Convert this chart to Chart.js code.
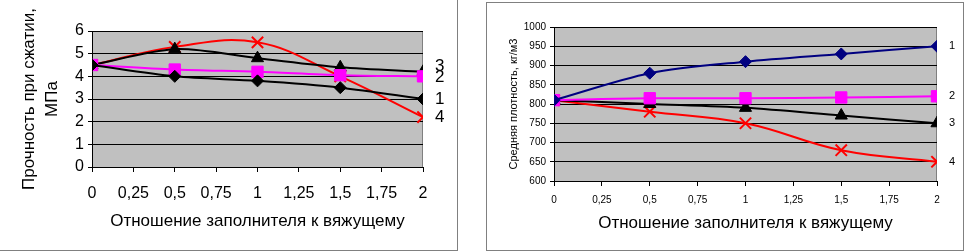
<!DOCTYPE html>
<html lang="ru">
<head>
<meta charset="UTF-8">
<title>Прочность и плотность</title>
<script src="https://cdn.jsdelivr.net/npm/chart.js"></script>
<style>
    body { margin: 0; background: #fff; width: 965px; height: 252px; overflow: hidden; position: relative; }
    .panel { position: absolute; border: 1px solid #808080; background: #fff; box-sizing: border-box; }
    #leftPanel { left: -1px; top: -1px; width: 459px; height: 252px; }
    #rightPanel { left: 486px; top: 2px; width: 478px; height: 249px; }
    canvas { display: block; }
</style>
</head>
<body>
<div class="panel" id="leftPanel"><canvas id="strengthChart" width="457" height="250"></canvas></div>
<div class="panel" id="rightPanel"><canvas id="densityChart" width="476" height="247"></canvas></div>

<script>
// ratio of filler to binder
const ratios = [0, 0.5, 1, 1.5, 2];

// compressive strength, MPa
const strength1 = [4.5, 4.0, 3.8, 3.5, 3.0];
const strength2 = [4.5, 4.3, 4.2, 4.05, 4.0];
const strength3 = [4.5, 5.2, 4.8, 4.4, 4.2];
const strength4 = [4.5, 5.3, 5.5, 4.0, 2.2];

// average density, kg/m3
const density1 = [810, 880, 910, 930, 950];
const density2 = [810, 815, 815, 817, 820];
const density3 = [810, 800, 790, 770, 750];
const density4 = [810, 780, 750, 680, 650];

const seriesNames = ['1', '2', '3', '4'];

const FONT = 'Arial, "Liberation Sans", sans-serif';
Chart.defaults.font.family = FONT;
Chart.defaults.color = '#000';

const toPoints = ys => ys.map((y, i) => ({ x: ratios[i], y: y }));
const commaTick = v => String(v).replace('.', ',');

// grey plot area like the old Excel charts
const plotBackground = {
    id: 'plotBackground',
    beforeDraw(chart) {
        const a = chart.chartArea, c = chart.ctx;
        c.save();
        c.fillStyle = '#c0c0c0';
        c.fillRect(a.left, a.top, a.right - a.left, a.bottom - a.top);
        c.strokeStyle = '#808080';
        c.lineWidth = 1;
        c.strokeRect(a.left + 0.5, a.top + 0.5, a.right - a.left - 1, a.bottom - a.top);
        c.restore();
    }
};

// series numbers printed to the right of the last point
const endLabels = {
    id: 'endLabels',
    afterDatasetsDraw(chart, args, opts) {
        const c = chart.ctx;
        c.save();
        c.font = opts.size + 'px ' + FONT;
        c.fillStyle = '#000';
        c.textBaseline = 'middle';
        chart.data.datasets.forEach((ds, i) => {
            const pts = chart.getDatasetMeta(i).data;
            const last = pts[pts.length - 1];
            const nudge = (opts.nudge && opts.nudge[i]) || 0;
            c.fillText(seriesNames[i], chart.chartArea.right + opts.gap, last.y + nudge);
        });
        c.restore();
    }
};

function makeDataset(values, color, style, radius, tension) {
    return {
        data: toPoints(values),
        borderColor: color,
        backgroundColor: color,
        pointBackgroundColor: color,
        pointBorderColor: color,
        pointStyle: style,
        pointRadius: radius,
        pointBorderWidth: style === 'crossRot' ? 2 : 1,
        borderWidth: 2,
        tension: tension
    };
}

function makeOptions(cfg) {
    return {
        responsive: false,
        animation: false,
        layout: { padding: { top: cfg.top, right: cfg.right, left: 0, bottom: 0 } },
        plugins: {
            legend: { display: false },
            tooltip: { enabled: false },
            endLabels: { size: cfg.labelSize, gap: 12, nudge: cfg.nudge }
        },
        scales: {
            x: {
                type: 'linear',
                min: 0, max: 2,
                afterFit: s => { s.height = cfg.xHeight; },
                ticks: { stepSize: 0.25, callback: commaTick, font: { size: cfg.tickSize }, padding: cfg.xTickPad, maxRotation: 0 },
                grid: { drawOnChartArea: false, color: '#000', tickLength: 5 },
                border: { color: '#000', width: 1 },
                title: { display: true, text: 'Отношение заполнителя к вяжущему', font: { size: 17 }, padding: { top: 0, bottom: cfg.xTitleBottom } }
            },
            y: {
                min: cfg.yMin, max: cfg.yMax,
                afterFit: s => { s.width = cfg.yWidth; },
                ticks: { stepSize: cfg.yStep, callback: v => String(v), font: { size: cfg.tickSize }, padding: 4 },
                grid: { color: '#000', tickLength: 4 },
                border: { color: '#000', width: 1 },
                title: { display: true, text: cfg.yTitle, font: { size: cfg.yTitleSize, lineHeight: 1.35 }, padding: cfg.yTitlePad }
            }
        }
    };
}

new Chart(document.getElementById('strengthChart'), {
    type: 'line',
    data: {
        datasets: [
            makeDataset(strength1, '#000000', 'rectRot', 6, 0.3),
            makeDataset(strength2, '#ff00ff', 'rect', 8, 0.3),
            makeDataset(strength3, '#000000', 'triangle', 7, 0.3),
            makeDataset(strength4, '#ff0000', 'crossRot', 8, 0.4)
        ]
    },
    options: makeOptions({
        top: 31, right: 34, xHeight: 83, yWidth: 92,
        tickSize: 16, xTickPad: 12, xTitleBottom: 18,
        yMin: 0, yMax: 6, yStep: 1,
        yTitle: ['Прочность при сжатии,', 'МПа'], yTitleSize: 17, yTitlePad: { top: 18, bottom: 0 },
        labelSize: 17, nudge: [0, 1, -5, 0]
    }),
    plugins: [plotBackground, endLabels]
});

new Chart(document.getElementById('densityChart'), {
    type: 'line',
    data: {
        datasets: [
            makeDataset(density1, '#000080', 'rectRot', 6, 0.3),
            makeDataset(density2, '#ff00ff', 'rect', 8, 0.3),
            makeDataset(density3, '#000000', 'triangle', 7, 0.3),
            makeDataset(density4, '#ff0000', 'crossRot', 8, 0.4)
        ]
    },
    options: makeOptions({
        top: 24, right: 26, xHeight: 69, yWidth: 67,
        tickSize: 10, xTickPad: 8, xTitleBottom: 16,
        yMin: 600, yMax: 1000, yStep: 50,
        yTitle: 'Средняя плотность, кг/м3', yTitleSize: 11, yTitlePad: { top: 20, bottom: 0 },
        labelSize: 11, nudge: [0, 0, 0, 0]
    }),
    plugins: [plotBackground, endLabels]
});
</script>
</body>
</html>
